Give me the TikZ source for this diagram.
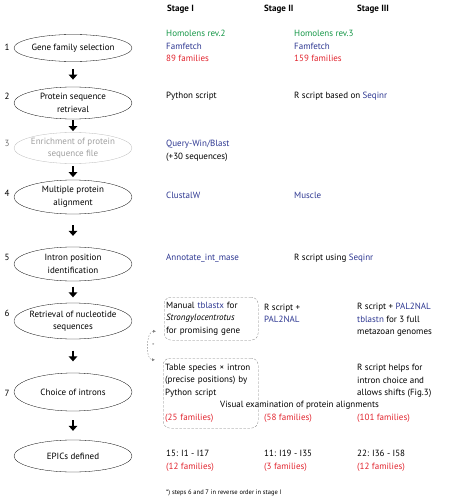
\documentclass[tikz,border=0pt]{standalone}
\usepackage{fontspec}
\setmainfont{PT Sans}
\usepackage{tikz}
\usetikzlibrary{arrows.meta}
\usetikzlibrary{shapes.geometric}
\definecolor{hgreen}{RGB}{20,150,70}
\definecolor{tblue}{RGB}{45,55,145}
\definecolor{fred}{RGB}{225,35,45}
\newcommand{\tb}[1]{\textcolor{tblue}{#1}}
\newcommand{\fr}[1]{\textcolor{fred}{#1}}
\newcommand{\hg}[1]{\textcolor{hgreen}{#1}}

\begin{document}
\begin{tikzpicture}[x=1pt,y=-1pt,font=\fontsize{9}{12.5}\selectfont,
  task/.style={ellipse,draw,line width=0.3pt,align=center,inner xsep=-8pt,inner ysep=0pt,minimum width=118pt,minimum height=#1},
  task/.default=30pt,
  flow/.style={line width=2.5pt,-{Triangle[width=8.5pt,length=5pt]},shorten <=#1,shorten >=#1},
  info/.style={anchor=west,align=left,inner sep=0pt},
  head/.style={info,font=\fontsize{9}{12.5}\selectfont\bfseries},
  dbox/.style={draw=gray,line width=0.3pt,dash pattern=on 2.5pt off 1.5pt,rounded corners=7pt,anchor=north west,align=left,inner xsep=2pt,inner ysep=0pt}]
\useasboundingbox (0,0) rectangle (451,500);

\node[head] (h1) at (167,9) {Stage I};
\node[head] (h2) at (264,9) {Stage II};
\node[head] (h3) at (357,9) {Stage III};

\node[task=27pt] (s1) at (73,48) {Gene family selection};
\node[task=32pt] (s2) at (73,103) {Protein sequence\\retrieval};
\node[task=31pt,draw=gray!55,text=gray!75] (s3) at (73,148) {Enrichment of protein\\sequence file};
\node[task=34pt] (s4) at (73,197) {Multiple protein\\alignment};
\node[task=34pt] (s5) at (73,264) {Intron position\\identification};
\node[task=36pt] (s6) at (73,321) {Retrieval of nucleotide\\sequences};
\node[task=38pt] (s7) at (73,392) {Choice of introns};
\node[task=32pt] (s8) at (73,456) {EPICs defined};

\node[inner sep=0pt] (n1) at (7,47) {1};
\node[inner sep=0pt] (n2) at (7,96) {2};
\node[inner sep=0pt,text=gray!90!black] (n3) at (7,143) {3};
\node[inner sep=0pt] (n4) at (7,193) {4};
\node[inner sep=0pt] (n5) at (7,257) {5};
\node[inner sep=0pt] (n6) at (7,313) {6};
\node[inner sep=0pt] (n7) at (7,393) {7};

\draw[flow=7.25pt] (s1) -- (s2);
\draw[flow=1.25pt] (s2) -- (s3);
\draw[flow=2.75pt] (s3) -- (s4);
\draw[flow=11pt] (s4) -- (s5);
\draw[flow=5.5pt] (s5) -- (s6);
\draw[flow=11.5pt] (s6) -- (s7);
\draw[flow=9pt] (s7) -- (s8);

\node[info] (a1) at (166,46) {\hg{Homolens rev.2}\\\tb{Famfetch}\\\fr{89 families}};
\node[info] (b1) at (294,46) {\hg{Homolens rev.3}\\\tb{Famfetch}\\\fr{159 families}};
\node[info] (a2) at (166,96) {Python script};
\node[info] (b2) at (294,96) {R script based on \tb{Seqinr}};
\node[info] (a3) at (166,151) {\tb{Query-Win/Blast}\\(+30 sequences)};
\node[info] (a4) at (166,195) {\tb{ClustalW}};
\node[info] (b4) at (294,195) {\tb{Muscle}};
\node[info] (a5) at (166,258) {\tb{Annotate\_int\_mase}};
\node[info] (b5) at (294,258) {R script using \tb{Seqinr}};

\node[dbox,minimum width=94pt,minimum height=43pt,text width=90pt] (a6) at (164,297) {Manual \tb{tblastx} for\\\textit{Strongylocentrotus}\\for promising gene};
\node[info] (b6) at (264,313.5) {R script +\\\tb{PAL2NAL}};
\node[info] (c6) at (357,320) {R script + \tb{PAL2NAL}\\\tb{tblastn} for 3 full\\metazoan genomes};

\node[dbox,minimum width=95pt,minimum height=70pt,text width=91pt] (a7) at (163,358) {Table species × intron\\(precise positions) by\\Python script\\[12.5pt]\fr{(25 families)}};
\node[info] (v7) at (220,405) {Visual examination of protein alignments};
\node[info] (b7) at (264,418) {\fr{(58 families)}};
\node[info] (c7) at (357,381) {R script helps for\\intron choice and\\allows shifts (Fig.3)};
\node[info] (d7) at (357,418) {\fr{(101 families)}};

\draw[gray,dash pattern=on 1.5pt off 1.5pt,{Latex[length=3pt,width=3pt]}-{Latex[length=3pt,width=3pt]},shorten <=8pt,shorten >=8pt] (a6.195) .. controls +(-18,0) and +(-18,0) .. (a7.145) node[midway,right=1pt,inner sep=1pt,font=\fontsize{7}{8}\selectfont] (star) {*};

\node[info] (a8) at (166,461) {15: I1 - I17\\\fr{(12 families)}};
\node[info] (b8) at (264,461) {11: I19 - I35\\\fr{(3 families)}};
\node[info] (c8) at (357,461) {22: I36 - I58\\\fr{(12 families)}};

\node[info,font=\fontsize{6.5}{8}\selectfont] (fn) at (166,493) {*) steps 6 and 7 in reverse order in stage I};
\end{tikzpicture}
\end{document}
